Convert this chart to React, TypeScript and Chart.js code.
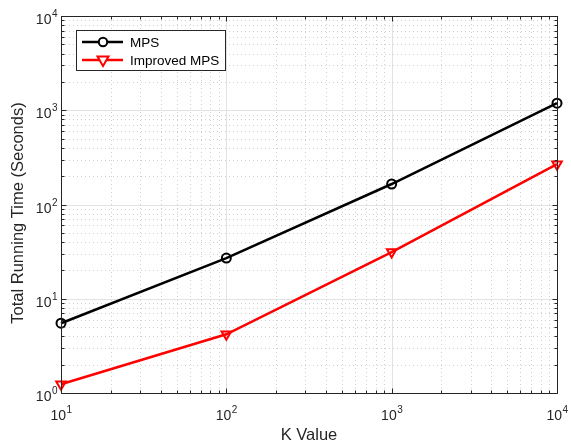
import React, { useEffect, useRef } from "react";
import { Chart, registerables } from "chart.js";

Chart.register(...registerables);

const kValues = [10, 100, 1000, 10000];
const mpsTimes = [5.5, 27, 165, 1190];
const improvedTimes = [1.24, 4.2, 31.3, 268];
const xTickExponents = [1, 2, 3, 4];
const yTickExponents = [0, 1, 2, 3, 4];
const xTitle = "K Value";
const yTitle = "Total Running Time (Seconds)";
const seriesNames = ["MPS", "Improved MPS"];

const FONT = '"Liberation Sans", Arial, sans-serif';
const AXIS_COLOR = "#262626";

function minorValues(minExp: number, maxExp: number): { v: number; major: boolean }[] {
  const out: { v: number; major: boolean }[] = [];
  for (let e = minExp; e <= maxExp; e++) {
    for (let m = 1; m <= 9; m++) {
      const v = m * Math.pow(10, e);
      if (v > Math.pow(10, maxExp)) break;
      out.push({ v, major: m === 1 });
    }
  }
  return out;
}

const matlabPlugin = {
  id: "matlabStyle",
  beforeDatasetsDraw(chart: any) {
    const { ctx, chartArea: a, scales } = chart;
    const xs = scales.x;
    const ys = scales.y;
    ctx.save();
    ctx.fillStyle = "#ffffff";
    ctx.fillRect(a.left, a.top, a.right - a.left, a.bottom - a.top);
    const xv = minorValues(1, 4);
    const yv = minorValues(0, 4);
    ctx.lineWidth = 1;
    ctx.setLineDash([1, 3]);
    ctx.strokeStyle = "#d0d0d0";
    for (const t of xv) {
      if (t.major) continue;
      const px = Math.round(xs.getPixelForValue(t.v)) + 0.5;
      ctx.beginPath();
      ctx.moveTo(px, a.top);
      ctx.lineTo(px, a.bottom);
      ctx.stroke();
    }
    for (const t of yv) {
      if (t.major) continue;
      const py = Math.round(ys.getPixelForValue(t.v)) + 0.5;
      ctx.beginPath();
      ctx.moveTo(a.left, py);
      ctx.lineTo(a.right, py);
      ctx.stroke();
    }
    ctx.setLineDash([]);
    ctx.strokeStyle = "#e3e3e3";
    for (const t of xv) {
      if (!t.major) continue;
      const px = Math.round(xs.getPixelForValue(t.v)) + 0.5;
      ctx.beginPath();
      ctx.moveTo(px, a.top);
      ctx.lineTo(px, a.bottom);
      ctx.stroke();
    }
    for (const t of yv) {
      if (!t.major) continue;
      const py = Math.round(ys.getPixelForValue(t.v)) + 0.5;
      ctx.beginPath();
      ctx.moveTo(a.left, py);
      ctx.lineTo(a.right, py);
      ctx.stroke();
    }
    ctx.restore();
  },
  afterDatasetsDraw(chart: any) {
    const { ctx, chartArea: a, scales } = chart;
    const xs = scales.x;
    const ys = scales.y;
    ctx.save();
    const L = Math.round(a.left) + 0.5;
    const R = Math.round(a.right) + 0.5;
    const T = Math.round(a.top) + 0.5;
    const B = Math.round(a.bottom) + 0.5;
    ctx.strokeStyle = AXIS_COLOR;
    ctx.lineWidth = 1;
    ctx.strokeRect(L, T, R - L, B - T);
    const xv = minorValues(1, 4);
    const yv = minorValues(0, 4);
    ctx.beginPath();
    for (const t of xv) {
      const px = Math.round(xs.getPixelForValue(t.v)) + 0.5;
      const len = t.major ? 5 : 3;
      ctx.moveTo(px, B);
      ctx.lineTo(px, B - len);
      ctx.moveTo(px, T);
      ctx.lineTo(px, T + len);
    }
    for (const t of yv) {
      const py = Math.round(ys.getPixelForValue(t.v)) + 0.5;
      const len = t.major ? 5 : 3;
      ctx.moveTo(L, py);
      ctx.lineTo(L + len, py);
      ctx.moveTo(R, py);
      ctx.lineTo(R - len, py);
    }
    ctx.stroke();

    ctx.fillStyle = AXIS_COLOR;
    const base = "14px " + FONT;
    const sup = "10px " + FONT;
    ctx.textBaseline = "alphabetic";
    ctx.textAlign = "left";
    for (const e of xTickExponents) {
      const px = xs.getPixelForValue(Math.pow(10, e));
      ctx.font = base;
      const w1 = ctx.measureText("10").width;
      ctx.font = sup;
      const w2 = ctx.measureText(String(e)).width;
      const start = px - (w1 + w2) / 2;
      ctx.font = base;
      ctx.fillText("10", start, B + 26);
      ctx.font = sup;
      ctx.fillText(String(e), start + w1 + 0.5, B + 19);
    }
    for (const e of yTickExponents) {
      const py = ys.getPixelForValue(Math.pow(10, e));
      ctx.font = sup;
      const w2 = ctx.measureText(String(e)).width;
      ctx.fillText(String(e), L - 4 - w2, py + 1);
      ctx.font = base;
      const w1 = ctx.measureText("10").width;
      ctx.fillText("10", L - 4 - w2 - w1 - 0.5, py + 8);
    }

    ctx.font = "16.5px " + FONT;
    ctx.textAlign = "center";
    ctx.textBaseline = "middle";
    ctx.fillText(xTitle, 309, 435);
    ctx.save();
    ctx.translate(18, 213);
    ctx.rotate(-Math.PI / 2);
    ctx.fillText(yTitle, 0, 0);
    ctx.restore();

    const lx = 76.5, ly = 30.5, lw = 149, lh = 40;
    ctx.fillStyle = "#ffffff";
    ctx.fillRect(lx, ly, lw, lh);
    ctx.strokeStyle = AXIS_COLOR;
    ctx.lineWidth = 1;
    ctx.strokeRect(lx, ly, lw, lh);
    const rows = [
      { y: 42, color: "#000000", style: "circle" },
      { y: 60, color: "#ff0000", style: "triangle" },
    ];
    rows.forEach((r, i) => {
      ctx.strokeStyle = r.color;
      ctx.lineWidth = 2.5;
      ctx.beginPath();
      ctx.moveTo(82, r.y);
      ctx.lineTo(123, r.y);
      ctx.stroke();
      ctx.lineWidth = 2;
      ctx.fillStyle = "#ffffff";
      ctx.beginPath();
      if (r.style === "circle") {
        ctx.arc(103, r.y, 4.2, 0, Math.PI * 2);
      } else {
        ctx.moveTo(97.5, r.y - 3.5);
        ctx.lineTo(108.5, r.y - 3.5);
        ctx.lineTo(103, r.y + 6);
        ctx.closePath();
      }
      ctx.fill();
      ctx.stroke();
      ctx.fillStyle = "#000000";
      ctx.font = "13.5px " + FONT;
      ctx.textAlign = "left";
      ctx.textBaseline = "middle";
      ctx.fillText(seriesNames[i], 130, r.y + 1);
    });
    ctx.restore();
  },
};

export default function App() {
  const ref = useRef<HTMLCanvasElement | null>(null);
  useEffect(() => {
    if (!ref.current) return;
    const chart = new Chart(ref.current, {
      type: "line",
      data: {
        datasets: [
          {
            label: seriesNames[0],
            data: kValues.map((k, i) => ({ x: k, y: mpsTimes[i] })),
            borderColor: "#000000",
            borderWidth: 2.5,
            pointStyle: "circle",
            pointRadius: 4.5,
            pointBorderWidth: 2,
            pointBackgroundColor: "rgba(255,255,255,0)",
            pointBorderColor: "#000000",
            clip: false as any,
          },
          {
            label: seriesNames[1],
            data: kValues.map((k, i) => ({ x: k, y: improvedTimes[i] })),
            borderColor: "#ff0000",
            borderWidth: 2.5,
            pointStyle: "triangle",
            rotation: 180,
            pointRadius: 5.5,
            pointBorderWidth: 2,
            pointBackgroundColor: "rgba(255,255,255,0)",
            pointBorderColor: "#ff0000",
            clip: false as any,
          },
        ],
      },
      options: {
        animation: false,
        responsive: false,
        events: [],
        layout: { padding: { left: 61, right: 14, top: 16, bottom: 52 } },
        plugins: { legend: { display: false }, tooltip: { enabled: false } },
        scales: {
          x: { type: "logarithmic", min: 10, max: 10000, display: false },
          y: { type: "logarithmic", min: 1, max: 10000, display: false },
        },
      },
      plugins: [matlabPlugin],
    });
    return () => chart.destroy();
  }, []);
  return (
    <div style={{ position: "absolute", left: 0, top: 0, width: 571, height: 445, background: "#fff" }}>
      <canvas ref={ref} width={571} height={445} />
    </div>
  );
}
